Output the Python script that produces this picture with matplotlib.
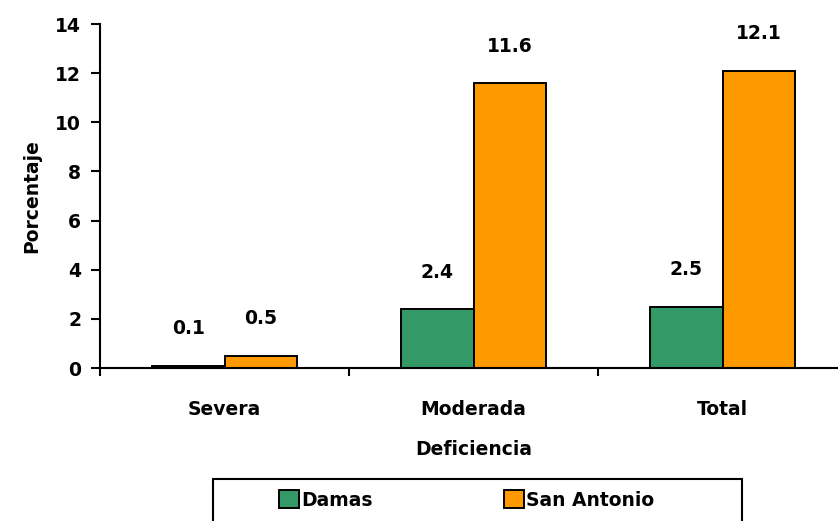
import matplotlib
matplotlib.use("Agg")
import matplotlib.pyplot as plt
import numpy as np
from matplotlib.patches import Rectangle

categories = ['Severa', 'Moderada', 'Total']
damas = [0.1, 2.4, 2.5]
san_antonio = [0.5, 11.6, 12.1]
series_names = ['Damas', 'San Antonio']

plt.rcParams['font.family'] = 'DejaVu Sans'
plt.rcParams['font.weight'] = 'bold'
plt.rcParams['font.size'] = 13.5

x = np.arange(len(categories))
width = 0.29

fig = plt.figure(figsize=(8.38, 5.21), dpi=100)
ax = fig.add_axes([100 / 838, 153 / 521, 747 / 838, 344 / 521])

bars1 = ax.bar(x - width / 2, damas, width, color='#339966',
               edgecolor='black', linewidth=1.4, label=series_names[0])
bars2 = ax.bar(x + width / 2, san_antonio, width, color='#FF9900',
               edgecolor='black', linewidth=1.4, label=series_names[1])


def autolabel(rects):
    """Put the value above each bar."""
    for rect in rects:
        height = rect.get_height()
        ax.annotate('{:.1f}'.format(height),
                    xy=(rect.get_x() + rect.get_width() / 2, height),
                    xytext=(0, 26.5), textcoords='offset points',
                    ha='center', va='center', fontweight='bold')


autolabel(bars1)
autolabel(bars2)

ax.set_xlim(-0.5, 2.5)
ax.set_ylim(0, 14)
ax.set_yticks(np.arange(0, 15, 2))

# category separators as major ticks, names on minor ticks
ax.set_xticks([-0.5, 0.5, 1.5, 2.5])
ax.set_xticklabels([])
ax.set_xticks(x, minor=True)
ax.set_xticklabels(categories, minor=True)
ax.tick_params(axis='x', which='major', direction='out', length=6, width=1.5)
ax.tick_params(axis='x', which='minor', length=0, pad=23)
ax.tick_params(axis='y', direction='out', length=6.5, width=1.5, pad=7)

for side in ['top', 'right']:
    ax.spines[side].set_visible(False)
for side in ['left', 'bottom']:
    ax.spines[side].set_linewidth(1.5)

ax.set_ylabel('Porcentaje', fontweight='bold', labelpad=10)
ax.set_xlabel('Deficiencia', fontweight='bold', labelpad=15)

# legend box below the chart
fig.patches.append(Rectangle((213 / 838, -20 / 521), 529 / 838, 62 / 521,
                             transform=fig.transFigure, facecolor='white',
                             edgecolor='black', linewidth=1.5))
fig.legend(handles=[bars1, bars2], loc='center left',
           bbox_to_anchor=(279 / 838, 21 / 521), ncol=2, frameon=False,
           borderpad=0, handlelength=1.07, handleheight=1.07,
           handletextpad=0.12, columnspacing=7.0, borderaxespad=0)

plt.savefig('out.png', dpi=100)
